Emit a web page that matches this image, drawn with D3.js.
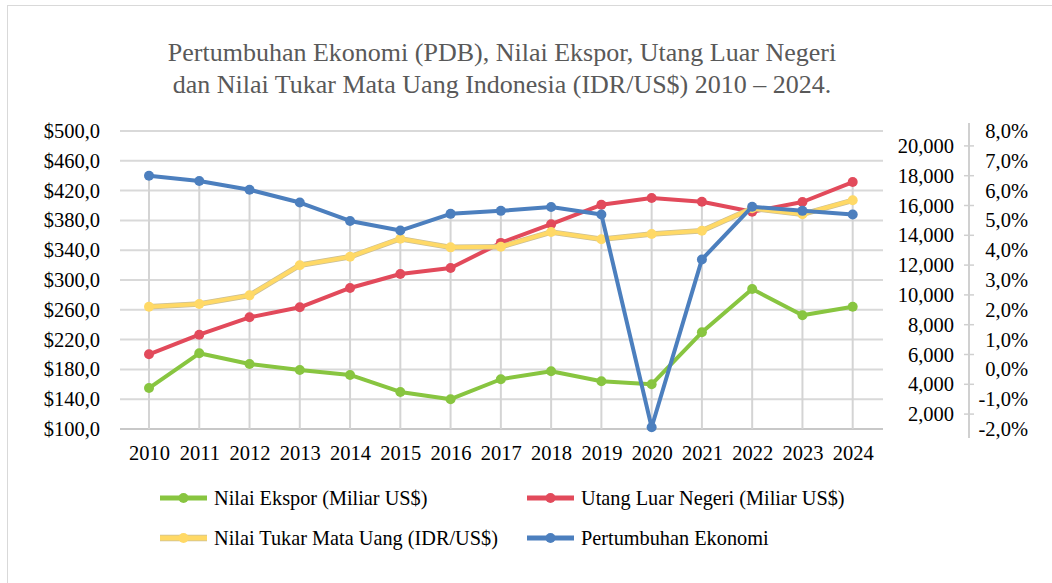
<!DOCTYPE html>
<html>
<head>
<meta charset="utf-8">
<script src="https://cdn.jsdelivr.net/npm/d3@7"></script>
<style>
  body { margin: 0; background: #fff; }
  text { font-family: "Liberation Serif", "Times New Roman", serif; }
</style>
</head>
<body>
<div id="chart"></div>
<script>
// data
var years = [2010, 2011, 2012, 2013, 2014, 2015, 2016, 2017, 2018, 2019, 2020, 2021, 2022, 2023, 2024];
var ekspor = [155.0, 201.6, 187.2, 179.2, 172.6, 149.7, 140.0, 166.8, 177.6, 164.2, 160.0, 229.8, 287.9, 252.6, 264.2];
var utang = [200.3, 226.6, 249.9, 263.4, 289.3, 308.1, 316.1, 349.8, 374.9, 400.9, 410.1, 405.1, 391.7, 404.7, 431.5];
var kurs = [9210, 9390, 9970, 11990, 12560, 13770, 13190, 13230, 14220, 13730, 14090, 14310, 15810, 15410, 16350];
var pertumbuhan = [6.50, 6.32, 6.03, 5.60, 4.98, 4.66, 5.22, 5.32, 5.45, 5.20, -1.94, 3.69, 5.46, 5.32, 5.20];

var leftTicks = [100, 140, 180, 220, 260, 300, 340, 380, 420, 460, 500];
var kursTicks = [2000, 4000, 6000, 8000, 10000, 12000, 14000, 16000, 18000, 20000];
var pctTicks = [-2, -1, 0, 1, 2, 3, 4, 5, 6, 7, 8];

var titleLines = ["Pertumbuhan Ekonomi (PDB), Nilai Ekspor, Utang Luar Negeri",
  "dan Nilai Tukar Mata Uang Indonesia (IDR/US$) 2010 \u2013 2024."];

var svgWidth = 1052, svgHeight = 583;
var plot = { left: 120, right: 883, top: 131, bottom: 429 };

var svg = d3.select("#chart")
  .append("svg")
  .attr("width", svgWidth)
  .attr("height", svgHeight);

// chart area border (only top/left are visible in the picture)
svg.append("rect")
  .attr("x", 7.5).attr("y", 5.5)
  .attr("width", svgWidth + 20).attr("height", svgHeight + 20)
  .attr("fill", "none")
  .attr("stroke", "#d9d9d9")
  .attr("stroke-width", 1);

// scales
var xScale = d3.scalePoint().domain(years).range([149, 852.7]);
var yLeft = d3.scaleLinear().domain([100, 500]).range([plot.bottom, plot.top]);
var yKurs = d3.scaleLinear().domain([1000, 21000]).range([plot.bottom, plot.top]);
var yPct = d3.scaleLinear().domain([-2, 8]).range([plot.bottom, plot.top]);

var fmtLeft = function(d) { return "$" + d3.format(".1f")(d).replace(".", ","); };
var fmtKurs = d3.format(",");
var fmtPct = function(d) { return d3.format(".1f")(d).replace(".", ",").replace("\u2212", "-") + "%"; };

// title
svg.append("g").selectAll("text")
  .data(titleLines)
  .enter()
  .append("text")
  .attr("x", 502)
  .attr("y", (d, i) => 61 + i * 32)
  .attr("text-anchor", "middle")
  .style("font-size", "26px")
  .style("fill", "#595959")
  .text(d => d);

// horizontal gridlines
svg.append("g").selectAll("line")
  .data(leftTicks)
  .enter()
  .append("line")
  .attr("x1", plot.left).attr("x2", plot.right)
  .attr("y1", d => yLeft(d)).attr("y2", d => yLeft(d))
  .attr("stroke", d => d === 100 ? "#c8c8c8" : "#d9d9d9")
  .attr("stroke-width", 2);

var series = [
  { name: "Nilai Ekspor (Miliar US$)", values: ekspor, y: yLeft, color: "#88c540" },
  { name: "Utang Luar Negeri (Miliar US$)", values: utang, y: yLeft, color: "#e24a5b" },
  { name: "Nilai Tukar Mata Uang (IDR/US$)", values: kurs, y: yKurs, color: "#ffd966" },
  { name: "Pertumbuhan Ekonomi", values: pertumbuhan, y: yPct, color: "#4c7fbe" }
];

// drop lines from the highest point of each year down to the axis
var topY = years.map((yr, i) => d3.min(series, s => s.y(s.values[i])));

svg.append("g").selectAll("line")
  .data(years)
  .enter()
  .append("line")
  .attr("x1", d => xScale(d)).attr("x2", d => xScale(d))
  .attr("y1", (d, i) => topY[i]).attr("y2", plot.bottom)
  .attr("stroke", "#d4d4d4")
  .attr("stroke-width", 2);

// left axis labels
var leftAxis = d3.axisLeft(yLeft).tickValues(leftTicks).tickFormat(fmtLeft).tickSize(0).tickPadding(0);
var leftG = svg.append("g")
  .attr("transform", "translate(100,0)")
  .call(leftAxis);
leftG.select(".domain").remove();
leftG.selectAll("text").style("font-size", "20.5px").style("fill", "#000");

// bottom axis labels
var bottomAxis = d3.axisBottom(xScale).tickSize(0).tickPadding(0);
var bottomG = svg.append("g")
  .attr("transform", "translate(0,445)")
  .call(bottomAxis);
bottomG.select(".domain").remove();
bottomG.selectAll("text").style("font-size", "20.5px").style("fill", "#000");

// secondary axis (IDR)
var kursAxis = d3.axisLeft(yKurs).tickValues(kursTicks).tickFormat(fmtKurs).tickSize(0).tickPadding(15);
var kursG = svg.append("g")
  .attr("transform", "translate(969,0)")
  .call(kursAxis);
kursG.select(".domain").remove();
kursG.selectAll("text").style("font-size", "20.5px").style("fill", "#000");
kursG.append("line")
  .attr("x1", 0).attr("x2", 0)
  .attr("y1", 123).attr("y2", 438)
  .attr("stroke", "#d0d0d0").attr("stroke-width", 2);
kursG.selectAll(".tk")
  .data(kursTicks)
  .enter()
  .append("line")
  .attr("x1", -5).attr("x2", 5)
  .attr("y1", d => yKurs(d)).attr("y2", d => yKurs(d))
  .attr("stroke", "#d0d0d0").attr("stroke-width", 1.5);

// percent axis
var pctAxis = d3.axisLeft(yPct).tickValues(pctTicks).tickFormat(fmtPct).tickSize(0).tickPadding(0);
var pctG = svg.append("g")
  .attr("transform", "translate(1028,0)")
  .call(pctAxis);
pctG.select(".domain").remove();
pctG.selectAll("text").style("font-size", "20.5px").style("fill", "#000");

// lines and markers
series.forEach(function(s) {
  var line = d3.line()
    .x((d, i) => xScale(years[i]))
    .y(d => s.y(d));

  var g = svg.append("g");

  if (s.values === kurs) {
    g.append("path")
      .datum(s.values)
      .attr("d", line)
      .attr("fill", "none")
      .attr("stroke", "#cbbf95")
      .attr("stroke-width", 5.5);
  }

  g.append("path")
    .datum(s.values)
    .attr("d", line)
    .attr("fill", "none")
    .attr("stroke", s.color)
    .attr("stroke-width", 4)
    .attr("stroke-linejoin", "round");

  g.selectAll("circle")
    .data(s.values)
    .enter()
    .append("circle")
    .attr("cx", (d, i) => xScale(years[i]))
    .attr("cy", d => s.y(d))
    .attr("r", 5)
    .attr("fill", s.color);
});

// legend, two columns
var legendPos = [[160, 498], [527, 498], [160, 538], [527, 538]];

var legend = svg.append("g").selectAll("g")
  .data(series)
  .enter()
  .append("g")
  .attr("transform", (d, i) => `translate(${legendPos[i][0]}, ${legendPos[i][1]})`);

legend.filter(d => d.values === kurs)
  .append("line")
  .attr("x1", 0).attr("x2", 47)
  .attr("stroke", "#cbbf95")
  .attr("stroke-width", 6.5);

legend.append("line")
  .attr("x1", 0).attr("x2", 47)
  .attr("stroke", d => d.color)
  .attr("stroke-width", 5);

legend.append("circle")
  .attr("cx", 23.5)
  .attr("r", 5)
  .attr("fill", d => d.color);

legend.append("text")
  .attr("x", 54)
  .attr("dy", "0.33em")
  .style("font-size", "20.3px")
  .style("fill", "#000")
  .text(d => d.name);
</script>
</body>
</html>
